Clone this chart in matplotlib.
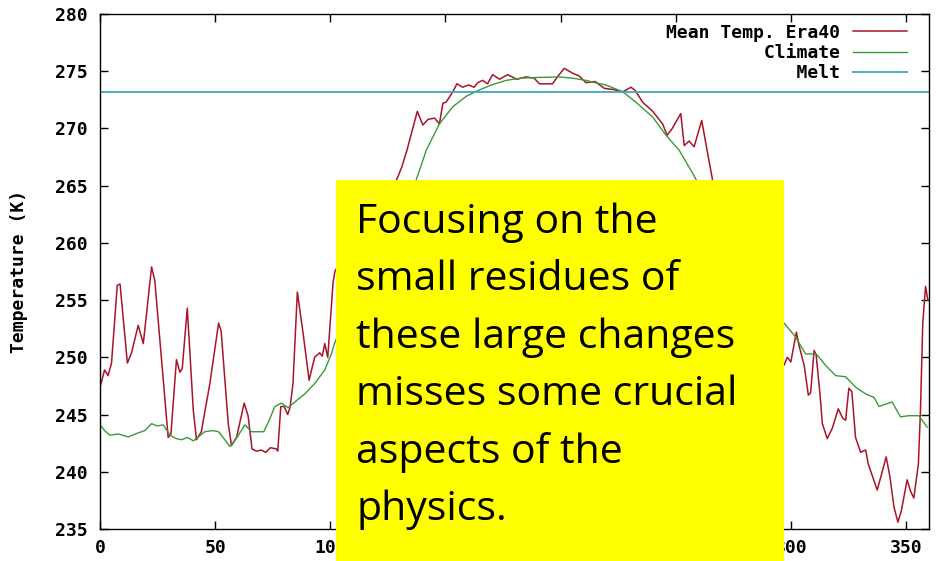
import numpy as np
import matplotlib.pyplot as plt
from matplotlib.patches import Rectangle

# day of year and 2m temperature
era_day = [0, 2, 3.5, 5, 7.5, 8.7, 11.9, 13.7, 16.6, 18.8, 22.4, 23.8, 29.6, 30.8, 33.2, 34.7, 35.7,
           37.9, 40.5, 41.9, 44, 47.7, 51.5, 52.6, 55.7, 57.1, 59.3, 62.6, 64.3, 66, 68, 70, 72, 74,
           76.6, 77.2, 78.5, 80, 81.5, 82.5, 83.8, 85.7, 88.2, 90.8, 93.2, 95.4, 96.5, 97.6, 98.9,
           101.2, 102, 106, 112, 118, 124, 129.4, 131, 133.3, 137.8, 140.2, 142.5, 145.3, 147.4,
           148.9, 150.3, 153.2, 155, 157.5, 160, 162.5, 164, 166.2, 168.3, 170.5, 173.5, 177, 181,
           185, 188.5, 190.8, 193.7, 196.5, 199, 201.6, 205.5, 208, 211, 215, 219, 223, 227, 230.6,
           232.5, 235.6, 240, 244.3, 246.3, 248.5, 252.2, 253.7, 255.8, 258, 261.3, 263.8, 266, 272,
           280, 288, 294, 297, 298.5, 300, 302.4, 303.6, 305.8, 307.6, 308.6, 310.1, 311, 312.6,
           313.7, 315.8, 318, 320.6, 322.5, 323.8, 325.2, 326.5, 328.1, 330.3, 332.5, 333.6, 337.5,
           339, 341.4, 343, 344.8, 346.5, 348, 350.5, 352, 353.4, 355.4, 356.3, 357.3, 358.5, 359.5]
era_temp = [247.4, 248.9, 248.4, 249.5, 256.3, 256.4, 249.5, 250.4, 252.8, 251.2, 257.9, 256.7, 243.0,
            243.3, 249.8, 248.7, 249.0, 254.3, 245.4, 242.8, 243.5, 247.7, 253.0, 252.3, 244.2, 242.3,
            243.0, 246.0, 244.9, 242.0, 241.8, 241.9, 241.7, 242.1, 242.0, 241.8, 245.7, 245.7, 245.0,
            245.6, 247.7, 255.7, 252.1, 248.0, 250.0, 250.4, 250.1, 251.2, 250.0, 256.5, 257.5, 259.0,
            260.5, 262.0, 263.5, 265.8, 266.6, 268.1, 271.5, 270.3, 270.8, 270.9, 270.4, 272.2, 272.3,
            273.2, 273.9, 273.6, 273.8, 273.6, 274.0, 274.2, 273.9, 274.7, 274.3, 274.7, 274.3, 274.5,
            274.4, 273.9, 273.9, 273.9, 274.6, 275.25, 274.8, 274.6, 274.0, 274.1, 273.5, 273.4, 273.2,
            273.6, 273.3, 272.3, 271.5, 270.4, 269.4, 270.0, 271.3, 268.5, 268.9, 268.4, 270.7, 267.9,
            265.5, 262.0, 258.0, 254.0, 251.0, 249.3, 250.0, 249.6, 252.2, 251.0, 249.3, 246.7, 246.9,
            250.6, 250.2, 246.9, 244.2, 242.9, 243.8, 245.5, 244.7, 244.5, 247.3, 247.0, 243.0, 241.7,
            241.9, 240.7, 238.4, 239.5, 241.3, 239.6, 236.9, 235.6, 236.6, 239.3, 238.3, 237.7, 240.7,
            245.4, 253.0, 256.2, 255.0]

clim_day = [0, 2, 4.3, 8, 12.3, 16.6, 19.5, 22.4, 25, 27.4, 30.5, 33, 35.4, 38, 40.6, 43, 45.5, 49,
            51.5, 54.2, 56.4, 59.5, 62.9, 65.8, 68.5, 71.1, 73.5, 75.9, 78.8, 81.7, 84.6, 88.9, 93.2,
            97.6, 100.5, 101.8, 110, 120, 130, 137.3, 141.7, 147.4, 153.2, 159, 164, 170, 176.3, 183,
            189.4, 199.5, 205, 211, 215, 219.7, 227, 232.7, 240, 245.8, 251.5, 257.3, 259.5, 270, 280,
            290, 297, 302, 306.4, 311, 315.1, 319.5, 323.8, 328.1, 332.5, 336.1, 338.3, 341, 344,
            347.6, 351.2, 355.6, 359.2]
clim_temp = [244.1, 243.6, 243.2, 243.3, 243.05, 243.4, 243.6, 244.2, 244.0, 244.1, 243.2, 242.9,
             242.8, 243.0, 242.7, 243.1, 243.5, 243.6, 243.5, 242.8, 242.2, 243.0, 244.1, 243.5,
             243.5, 243.5, 244.5, 245.7, 246.0, 245.6, 246.1, 246.8, 247.7, 248.9, 250.3, 251.2,
             255.0, 259.0, 262.5, 265.5, 268.1, 270.4, 271.9, 272.8, 273.3, 273.8, 274.2, 274.4,
             274.45, 274.5, 274.4, 274.2, 274.0, 273.8, 273.2, 272.3, 271.0, 269.4, 268.1, 266.1,
             265.3, 261.0, 257.5, 254.5, 253.0, 251.8, 250.3, 250.3, 249.3, 248.4, 248.3, 247.4,
             246.8, 246.5, 245.7, 245.9, 246.1, 244.8, 244.9, 244.9, 243.9]

melt_temp = 273.15

xticks = [0, 50, 100, 150, 200, 250, 300, 350]
yticks = [235, 240, 245, 250, 255, 260, 265, 270, 275, 280]

note_lines = ['Focusing on the', 'small residues of', 'these large changes',
              'misses some crucial', 'aspects of the', 'physics.']

mono = {'family': 'DejaVu Sans Mono', 'weight': 'bold', 'size': 13}

fig = plt.figure(figsize=(9.42, 5.61), dpi=100)
ax = fig.add_axes([100/942, 1-529/561, 829/942, 515/561])

ax.plot(era_day, era_temp, color='#a8142a', lw=1.1, label='Mean Temp. Era40')
ax.plot(clim_day, clim_temp, color='#3a9a3a', lw=1.0, label='         Climate')
ax.axhline(melt_temp, color='#3fa6bd', lw=1.3, label='            Melt')

ax.set_xlim(0, 360)
ax.set_ylim(235, 280)
ax.set_xticks(xticks)
ax.set_yticks(yticks)
ax.tick_params(direction='in', length=6, width=1, top=True, right=True, pad=7)
ax.tick_params(axis='y', pad=9)
for lab in ax.get_xticklabels() + ax.get_yticklabels():
    lab.set_fontproperties(mono)
for s in ax.spines.values():
    s.set_linewidth(1)
ax.set_ylabel('Temperature (K)', fontdict={'family': 'DejaVu Sans Mono', 'weight': 'bold', 'size': 13},
              labelpad=19)

leg = ax.legend(loc='upper right', bbox_to_anchor=(0.974, 0.981), markerfirst=False, frameon=False,
                prop=mono, handlelength=3, handletextpad=0.75, labelspacing=0.13,
                borderaxespad=0, borderpad=0)

# yellow note covering the middle of the plot
fig.add_artist(Rectangle((336/942, 0), 448/942, 381/561, transform=fig.transFigure,
                         facecolor='#ffff00', edgecolor='none', zorder=10))
for i, line in enumerate(note_lines):
    fig.text(356/942, 1 - (233 + 57.4*i)/561, line, family='Open Sans', fontsize=29.5,
             va='baseline', ha='left', zorder=11)

plt.savefig('out.png', dpi=100)
plt.close(fig)
